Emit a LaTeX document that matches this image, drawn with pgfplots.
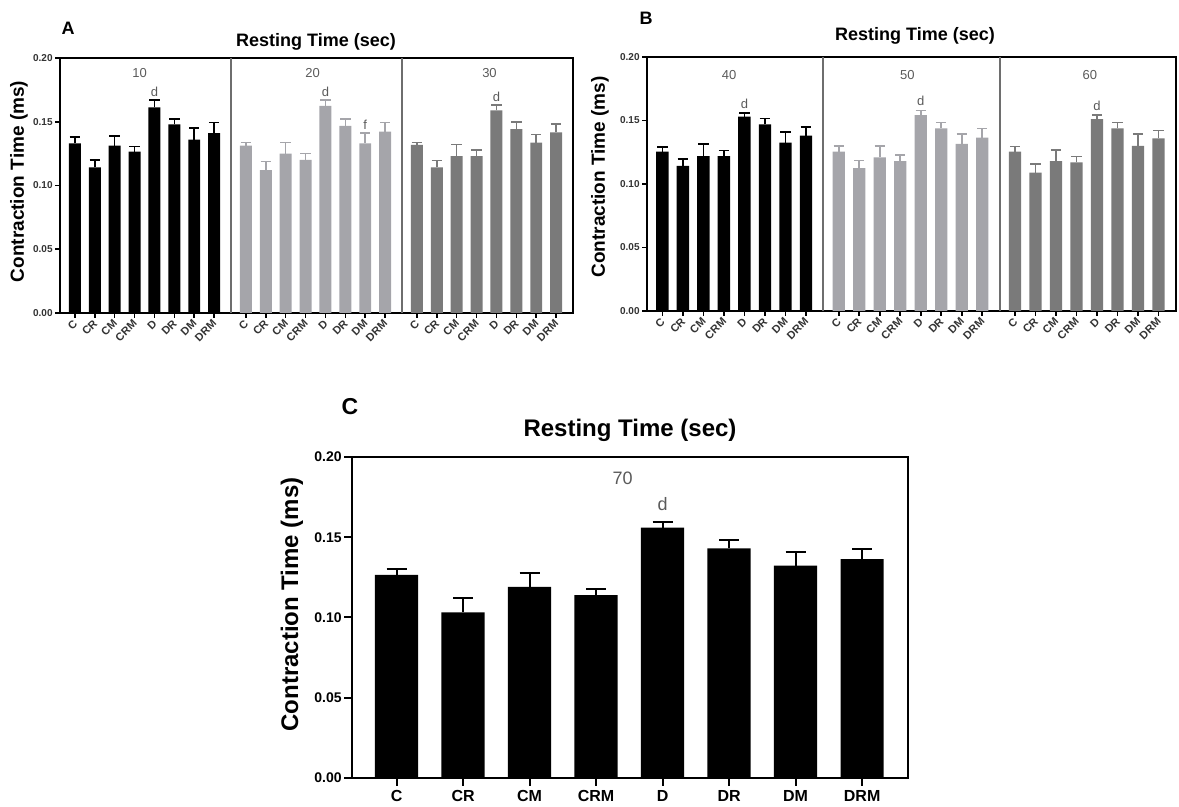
\documentclass[border=0pt]{standalone}
\usepackage{fontspec}
\setmainfont{Liberation Sans}
\usepackage{pgfplots}
\pgfplotsset{compat=1.18}

\definecolor{grpA}{RGB}{0,0,0}
\definecolor{grpB}{RGB}{165,165,170}
\definecolor{grpC}{RGB}{122,122,122}
\definecolor{sepline}{RGB}{110,110,110}
\definecolor{annot}{RGB}{90,90,90}

\tikzset{sig/.style={anchor=south, inner sep=0pt, yshift=#1}}

\pgfplotsset{
  panel/.style={
    scale only axis, anchor=south west,
    ymin=0, ymax=0.2, ytick={0,0.05,0.1,0.15,0.2},
    yticklabel style={/pgf/number format/fixed, /pgf/number format/fixed zerofill,
      /pgf/number format/precision=2, /pgf/number format/assume math mode=true},
    axis line style={line width=1pt, black},
    tick align=outside, tick pos=left,
    major tick style={line width=0.8pt, black},
  },
  smallpanel/.style={
    panel, xmin=0, xmax=25.8,
    major tick length=2.5pt,
    yticklabel style={font=\bfseries\fontsize{5}{5}\selectfont, text=black!80, inner sep=1pt},
    xtick={0.75,1.75,2.75,3.75,4.75,5.75,6.75,7.75,
           9.35,10.35,11.35,12.35,13.35,14.35,15.35,16.35,
           17.95,18.95,19.95,20.95,21.95,22.95,23.95,24.95},
    xticklabels={C,CR,CM,CRM,D,DR,DM,DRM,C,CR,CM,CRM,D,DR,DM,DRM,C,CR,CM,CRM,D,DR,DM,DRM},
    xticklabel style={font=\bfseries\fontsize{5.5}{6}\selectfont, rotate=45, anchor=east, inner sep=1pt, yshift=-1.5pt, text=black!80},
  },
  grp/.style={ybar, bar shift=0pt, bar width=0.6, draw=none, fill=#1,
    error bars/y dir=plus, error bars/y explicit,
    error bars/error bar style={line width=0.8pt, #1},
    error bars/error mark options={rotate=90, mark size=2.6pt, line width=0.8pt, #1}},
}

\begin{document}
\begin{tikzpicture}
\useasboundingbox (0,0) rectangle (589.5pt,403.5pt);

% ---------- panel A ----------
\begin{axis}[smallpanel, at={(30pt,247pt)}, width=256.5pt, height=127.5pt]
\addplot[grp=grpA] coordinates {
 (0.75,0.1330) +- (0,0.0048) (1.75,0.1143) +- (0,0.0055) (2.75,0.1312) +- (0,0.0076) (3.75,0.1265) +- (0,0.0040)
 (4.75,0.1613) +- (0,0.0057) (5.75,0.1480) +- (0,0.0040) (6.75,0.1360) +- (0,0.0090) (7.75,0.1410) +- (0,0.0083)};
\addplot[grp=grpB] coordinates {
 (9.35,0.1312) +- (0,0.0025) (10.35,0.1120) +- (0,0.0067) (11.35,0.1250) +- (0,0.0086) (12.35,0.1200) +- (0,0.0050)
 (13.35,0.1624) +- (0,0.0046) (14.35,0.1467) +- (0,0.0053) (15.35,0.1330) +- (0,0.0084) (16.35,0.1422) +- (0,0.0071)};
\addplot[grp=grpC] coordinates {
 (17.95,0.1318) +- (0,0.0018) (18.95,0.1143) +- (0,0.0052) (19.95,0.1230) +- (0,0.0093) (20.95,0.1230) +- (0,0.0048)
 (21.95,0.1590) +- (0,0.0040) (22.95,0.1443) +- (0,0.0057) (23.95,0.1336) +- (0,0.0064) (24.95,0.1417) +- (0,0.0063)};
\draw[sepline, line width=1pt] (axis cs:8.6,0) -- (axis cs:8.6,0.2);
\draw[sepline, line width=1pt] (axis cs:17.2,0) -- (axis cs:17.2,0.2);
\begin{scope}[every node/.style={text=annot, font=\fontsize{6.5}{7}\selectfont}]
\node at (axis cs:4.0,0.188) {10};
\node at (axis cs:12.7,0.188) {20};
\node at (axis cs:21.6,0.188) {30};
\node[sig=1.5pt] at (axis cs:4.75,0.167) {d};
\node[sig=1.5pt] at (axis cs:13.35,0.167) {d};
\node[sig=1.5pt] at (axis cs:15.35,0.1414) {f};
\node[sig=1.5pt] at (axis cs:21.95,0.163) {d};
\end{scope}
\end{axis}

% ---------- panel B ----------
\begin{axis}[smallpanel, at={(323.5pt,248pt)}, width=264.5pt, height=127pt]
\addplot[grp=grpA] coordinates {
 (0.75,0.1255) +- (0,0.0035) (1.75,0.1143) +- (0,0.0052) (2.75,0.1220) +- (0,0.0095) (3.75,0.1220) +- (0,0.0043)
 (4.75,0.1530) +- (0,0.0030) (5.75,0.1470) +- (0,0.0047) (6.75,0.1326) +- (0,0.0081) (7.75,0.1380) +- (0,0.0070)};
\addplot[grp=grpB] coordinates {
 (9.35,0.1255) +- (0,0.0045) (10.35,0.1125) +- (0,0.0059) (11.35,0.1210) +- (0,0.0090) (12.35,0.1180) +- (0,0.0050)
 (13.35,0.1543) +- (0,0.0037) (14.35,0.1438) +- (0,0.0047) (15.35,0.1315) +- (0,0.0079) (16.35,0.1365) +- (0,0.0073)};
\addplot[grp=grpC] coordinates {
 (17.95,0.1255) +- (0,0.0039) (18.95,0.1090) +- (0,0.0066) (19.95,0.1180) +- (0,0.0088) (20.95,0.1170) +- (0,0.0046)
 (21.95,0.1510) +- (0,0.0033) (22.95,0.1438) +- (0,0.0047) (23.95,0.1300) +- (0,0.0094) (24.95,0.1360) +- (0,0.0060)};
\draw[sepline, line width=1pt] (axis cs:8.6,0) -- (axis cs:8.6,0.2);
\draw[sepline, line width=1pt] (axis cs:17.2,0) -- (axis cs:17.2,0.2);
\begin{scope}[every node/.style={text=annot, font=\fontsize{6.5}{7}\selectfont}]
\node at (axis cs:4.0,0.186) {40};
\node at (axis cs:12.7,0.186) {50};
\node at (axis cs:21.6,0.186) {60};
\node[sig=2pt] at (axis cs:4.75,0.156) {d};
\node[sig=2pt] at (axis cs:13.35,0.158) {d};
\node[sig=2pt] at (axis cs:21.95,0.1543) {d};
\end{scope}
\end{axis}

% ---------- panel C ----------
\begin{axis}[panel, at={(176pt,14.5pt)}, width=278pt, height=160.5pt,
  xmin=-0.67, xmax=7.69, xtick={0,...,7},
  xticklabels={C,CR,CM,CRM,D,DR,DM,DRM},
  axis line style={line width=1.3pt, black},
  major tick length=4pt, major tick style={line width=1pt, black},
  xticklabel style={font=\bfseries\fontsize{8}{9}\selectfont, inner sep=2pt},
  yticklabel style={font=\bfseries\fontsize{7}{8}\selectfont, inner sep=1pt}]
\addplot[grp=black, bar width=0.65,
  error bars/error mark options={rotate=90, mark size=5pt, line width=1pt, black},
  error bars/error bar style={line width=1pt, black}] coordinates {
 (0,0.1265) +- (0,0.0035) (1,0.1032) +- (0,0.0088) (2,0.1190) +- (0,0.0085) (3,0.1140) +- (0,0.0036)
 (4,0.1560) +- (0,0.0037) (5,0.1430) +- (0,0.0050) (6,0.1323) +- (0,0.0083) (7,0.1364) +- (0,0.0063)};
\node[text=annot, font=\fontsize{9}{10}\selectfont] at (axis cs:3.4,0.187) {70};
\node[text=annot, font=\fontsize{9}{10}\selectfont, sig=5.5pt] at (axis cs:4,0.1597) {d};
\end{axis}

% ---------- titles and labels ----------
\node[font=\bfseries\fontsize{9}{10}\selectfont] at (34pt,389.5pt) {A};
\node[font=\bfseries\fontsize{9}{10}\selectfont] at (158pt,382.5pt) {Resting Time (sec)};
\node[font=\bfseries\fontsize{9.5}{10}\selectfont, rotate=90] at (9.5pt,312.75pt) {Contraction Time (ms)};
\node[font=\bfseries\fontsize{9}{10}\selectfont] at (323pt,394.5pt) {B};
\node[font=\bfseries\fontsize{9}{10}\selectfont] at (457.5pt,385.5pt) {Resting Time (sec)};
\node[font=\bfseries\fontsize{9.5}{10}\selectfont, rotate=90] at (300pt,315pt) {Contraction Time (ms)};
\node[font=\bfseries\fontsize{11.5}{12}\selectfont] at (175pt,200pt) {C};
\node[font=\bfseries\fontsize{12}{13}\selectfont] at (315pt,188.5pt) {Resting Time (sec)};
\node[font=\bfseries\fontsize{12}{13}\selectfont, rotate=90] at (146pt,101.25pt) {Contraction Time (ms)};
\end{tikzpicture}
\end{document}
